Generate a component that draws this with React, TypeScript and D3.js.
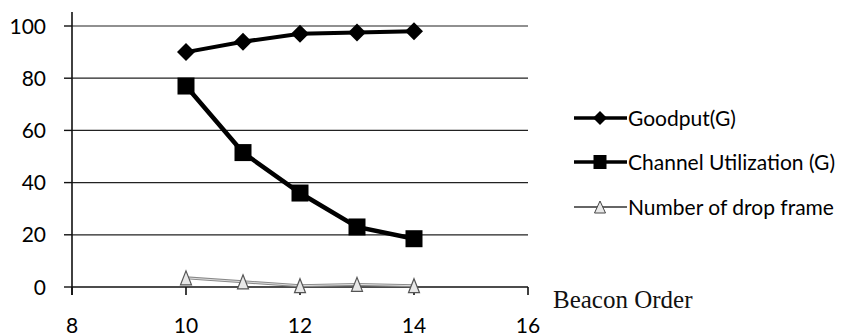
import React from "react";
import * as d3 from "d3";

const beaconOrder = [10, 11, 12, 13, 14];
const goodput = [90, 94, 97, 97.5, 98];
const channelUtil = [77, 51.5, 36, 23, 18.5];
const dropFrames = [3.5, 2, 0.5, 1, 0.5];
const xTicks = [8, 10, 12, 14, 16];
const yTicks = [0, 20, 40, 60, 80, 100];
const legendLabels = ["Goodput(G)", "Channel Utilization (G)", "Number of drop frame"];

const diamondPath = (w: number, h: number) => `M0,${-h / 2}L${w / 2},0L0,${h / 2}L${-w / 2},0Z`;
const squarePath = (w: number, h: number) => `M${-w / 2},${-h / 2}h${w}v${h}h${-w}Z`;
const triPath = (w: number, h: number) => `M0,${-h / 2}L${w / 2},${h / 2}L${-w / 2},${h / 2}Z`;

export default function App() {
  const x = d3.scaleLinear().domain([8, 16]).range([72, 528]);
  const y = d3.scaleLinear().domain([0, 100]).range([287, 26]);
  const line = (vals: number[]) =>
    d3.line<number>().x((_, i) => x(beaconOrder[i])).y((v) => y(v))(vals) || "";
  const sans = "Lato, 'Open Sans', sans-serif";
  const legendY = [118, 162, 207];
  return (
    <svg width={865} height={336} style={{ position: "absolute", left: 0, top: 0, background: "#fff" }}>
      {yTicks.map((t) => (
        <g key={t}>
          {t > 0 && <line x1={72} x2={528} y1={y(t)} y2={y(t)} stroke="#222" strokeWidth={1.2} />}
          <line x1={64} x2={72} y1={y(t)} y2={y(t)} stroke="#111" strokeWidth={1.4} />
          <text x={46} y={y(t)} dy="0.36em" textAnchor="end" fontFamily={sans} fontSize={21} fill="#000">
            {t}
          </text>
        </g>
      ))}
      <line x1={72} x2={72} y1={12} y2={y(0) + 8} stroke="#111" strokeWidth={1.6} />
      <line x1={72} x2={528} y1={y(0)} y2={y(0)} stroke="#111" strokeWidth={1.6} />
      {xTicks.map((t) => (
        <g key={t}>
          <line x1={x(t)} x2={x(t)} y1={y(0)} y2={y(0) + 8} stroke="#111" strokeWidth={1.6} />
          <text x={x(t)} y={333} textAnchor="middle" fontFamily={sans} fontSize={21} fill="#000">
            {t}
          </text>
        </g>
      ))}
      <text x={553} y={308} fontFamily="'Liberation Serif', 'DejaVu Serif', serif" fontSize={25} fill="#111">
        Beacon Order
      </text>
      {/* drop frames */}
      <path d={line(dropFrames)} fill="none" stroke="#888" strokeWidth={3} />
      <path d={line(dropFrames)} fill="none" stroke="#ddd" strokeWidth={1} />
      {dropFrames.map((v, i) => (
        <path key={i} d={triPath(11, 14)} transform={`translate(${x(beaconOrder[i])},${y(v)})`} fill="#e8e8e8" stroke="#555" strokeWidth={1.2} />
      ))}
      {/* goodput */}
      <path d={line(goodput)} fill="none" stroke="#000" strokeWidth={4} />
      {goodput.map((v, i) => (
        <path key={i} d={diamondPath(18, 18)} transform={`translate(${x(beaconOrder[i])},${y(v)})`} fill="#000" />
      ))}
      {/* channel */}
      <path d={line(channelUtil)} fill="none" stroke="#000" strokeWidth={4.5} />
      {channelUtil.map((v, i) => (
        <path key={i} d={squarePath(17, 17)} transform={`translate(${x(beaconOrder[i])},${y(v)})`} fill="#000" />
      ))}
      {/* legend */}
      {legendLabels.map((lab, i) => (
        <g key={lab} transform={`translate(0,${legendY[i]})`}>
          <line x1={574} x2={627} y1={0} y2={0} stroke={i === 2 ? "#666" : "#000"} strokeWidth={i === 2 ? 2 : 3.5} />
          <path
            d={i === 0 ? diamondPath(14, 14) : i === 1 ? squarePath(13, 14) : triPath(11, 12)}
            transform="translate(600,0)"
            fill={i === 2 ? "#e8e8e8" : "#000"}
            stroke={i === 2 ? "#444" : "none"}
          />
          <text x={628} y={0} dy="0.36em" fontFamily={sans} fontSize={21} fill="#000">
            {lab}
          </text>
        </g>
      ))}
    </svg>
  );
}
